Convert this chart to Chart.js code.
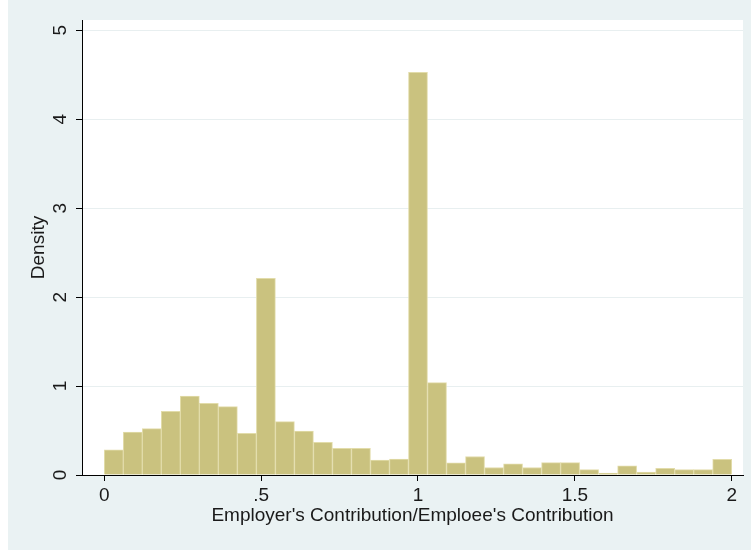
<!DOCTYPE html>
<html>
<head>
<meta charset="utf-8">
<script src="https://cdn.jsdelivr.net/npm/chart.js@4.4.1/dist/chart.umd.min.js"></script>
<style>
  html, body { margin: 0; padding: 0; background: #ffffff; }
  #wrap { width: 751px; height: 550px; }
</style>
</head>
<body>
<div id="wrap"><canvas id="histCanvas" width="751" height="550"></canvas></div>
<script>
// Histogram: 33 equal-width bins over [0, 2]
const binCount = 33;
const binStart = 0;
const binWidth = 2 / binCount;
const density = [
  0.284, 0.483, 0.521, 0.716, 0.888, 0.806, 0.768, 0.469, 2.211, 0.600, 0.495,
  0.367, 0.300, 0.300, 0.169, 0.180, 4.527, 1.038, 0.137, 0.208, 0.084, 0.126,
  0.084, 0.139, 0.139, 0.060, 0.021, 0.102, 0.033, 0.074, 0.060, 0.060, 0.176
];

const xTickValues = [0, 0.5, 1, 1.5, 2];
const xTickLabels = ["0", ".5", "1", "1.5", "2"];
const yTickValues = [0, 1, 2, 3, 4, 5];
const yTickLabels = ["0", "1", "2", "3", "4", "5"];

const xTitle = "Employer's Contribution/Emploee's Contribution";
const yTitle = "Density";

const FONT = "'Liberation Sans', Arial, sans-serif";
const TEXT = "#1a1a1a";

// bar centres from the bin layout
const bars = density.map((d, i) => ({ x: binStart + (i + 0.5) * binWidth, y: d }));

// graph region (bluish) and plot region (white)
const backdrop = {
  id: "backdrop",
  beforeDraw(chart) {
    const { ctx, chartArea: a } = chart;
    ctx.save();
    ctx.fillStyle = "#eaf2f3";
    ctx.fillRect(8, 0, chart.width - 8, chart.height);
    ctx.fillStyle = "#ffffff";
    ctx.fillRect(a.left, a.top, a.right - a.left, a.bottom - a.top);
    ctx.restore();
  },
};

// y tick labels run vertically, like the axis title
const verticalYLabels = {
  id: "verticalYLabels",
  afterDraw(chart) {
    const { ctx } = chart;
    const y = chart.scales.y;
    ctx.save();
    ctx.font = `19px ${FONT}`;
    ctx.fillStyle = TEXT;
    ctx.textAlign = "center";
    ctx.textBaseline = "middle";
    yTickValues.forEach((v, i) => {
      ctx.save();
      ctx.translate(61, y.getPixelForValue(v));
      ctx.rotate(-Math.PI / 2);
      ctx.fillText(yTickLabels[i], 0, 0);
      ctx.restore();
    });
    ctx.restore();
  },
};

const ctx = document.getElementById("histCanvas").getContext("2d");
new Chart(ctx, {
  type: "bar",
  data: {
    datasets: [
      {
        data: bars,
        backgroundColor: "#cac27f",
        borderColor: "#e2dcaa",
        borderWidth: 1,
        borderSkipped: "start",
        barPercentage: 1,
        categoryPercentage: 1,
      },
    ],
  },
  options: {
    responsive: false,
    animation: false,
    devicePixelRatio: 1,
    layout: { padding: { left: 0, right: 8, top: 20, bottom: 0 } },
    plugins: {
      legend: { display: false },
      tooltip: { enabled: false },
    },
    scales: {
      x: {
        type: "linear",
        offset: false,
        min: -0.071,
        max: 2.036,
        afterBuildTicks: (s) => {
          s.ticks = xTickValues.map((v) => ({ value: v }));
        },
        afterFit: (s) => {
          s.height = 75;
        },
        ticks: {
          autoSkip: false,
          maxRotation: 0,
          padding: 3,
          color: TEXT,
          font: { family: FONT, size: 19 },
          callback: (v) => xTickLabels[xTickValues.indexOf(v)],
        },
        grid: {
          offset: false,
          drawOnChartArea: false,
          drawTicks: true,
          tickLength: 6,
          tickColor: "#000000",
          tickWidth: 1,
        },
        border: { display: true, color: "#000000", width: 1 },
        title: {
          display: true,
          text: xTitle,
          color: TEXT,
          font: { family: FONT, size: 19 },
          padding: { top: 0, bottom: 23 },
        },
      },
      y: {
        type: "linear",
        min: 0,
        max: 5.116,
        afterBuildTicks: (s) => {
          s.ticks = yTickValues.map((v) => ({ value: v }));
        },
        afterFit: (s) => {
          s.width = 82;
        },
        ticks: { display: false },
        grid: {
          color: "#e8eff0",
          lineWidth: 1,
          drawTicks: true,
          tickLength: 6,
          tickColor: "#000000",
          tickWidth: 1,
        },
        border: { display: true, color: "#000000", width: 1 },
        title: {
          display: true,
          text: yTitle,
          color: TEXT,
          font: { family: FONT, size: 19 },
          padding: { top: 27, bottom: 0 },
        },
      },
    },
  },
  plugins: [backdrop, verticalYLabels],
});
</script>
</body>
</html>
